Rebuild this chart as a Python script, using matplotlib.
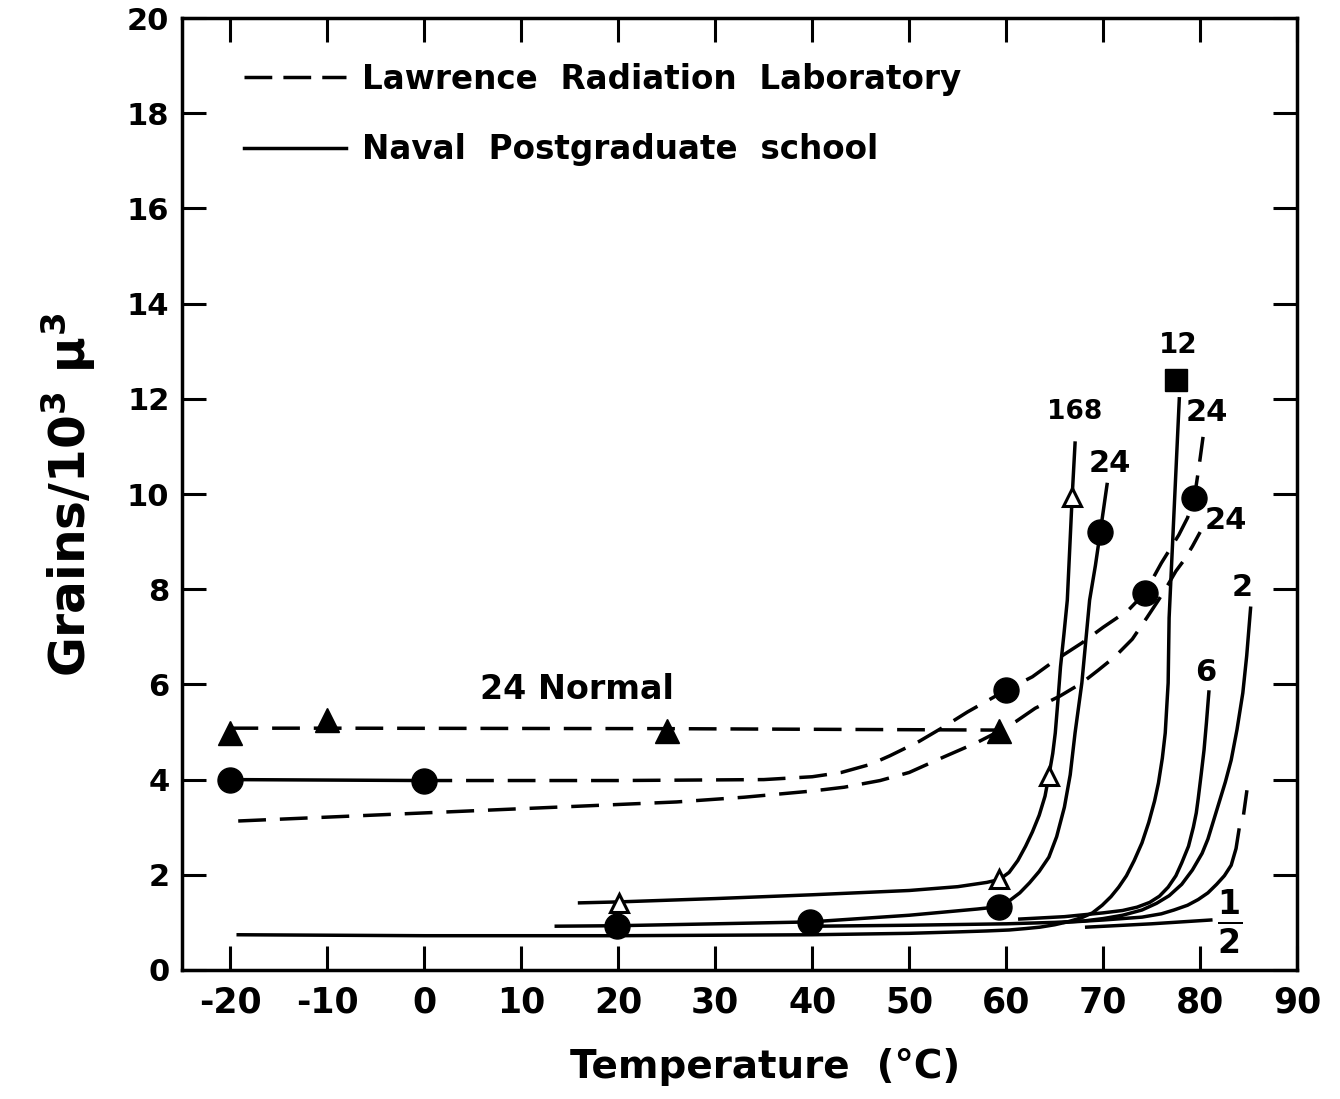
import matplotlib
matplotlib.use("Agg")
import matplotlib.pyplot as plt
from matplotlib.lines import Line2D

plt.rcParams['font.family'] = ['DejaVu Sans']
plt.rcParams['font.weight'] = 'bold'
plt.rcParams['mathtext.default'] = 'bf'

# ---------------- data ----------------
# Lawrence Radiation Laboratory (dashed)
lrl_normal_line_x = [-20, -10, 25, 59.3]
lrl_normal_line_y = [5.08, 5.08, 5.07, 5.04]
lrl_normal_tri_x = [-20, -10, 25, 59.3]
lrl_normal_tri_y = [4.97, 5.25, 5.02, 5.02]

lrl_upper_x = [0, 20, 35, 40, 43, 46, 48, 51, 53.5, 56, 58, 60, 62.7, 65, 67.8, 70, 72.6,
               74.3, 76, 77.8, 78.7, 79.4, 79.9, 80.3]
lrl_upper_y = [3.98, 3.98, 4.0, 4.06, 4.15, 4.32, 4.5, 4.8, 5.1, 5.42, 5.65, 5.88, 6.16, 6.5,
               6.87, 7.2, 7.56, 7.92, 8.55, 9.14, 9.5, 9.92, 10.6, 11.2]

lrl_lower_x = [-19.2, 0, 26, 33, 40, 43.3, 47, 50, 53.5, 57, 59.3, 61, 63, 65.5, 67.8, 69.5,
               71.2, 73, 74.5, 75.7, 76.7, 77.5, 78.3, 79.2, 80.0]
lrl_lower_y = [3.13, 3.3, 3.53, 3.63, 3.76, 3.84, 3.98, 4.15, 4.47, 4.78, 5.02, 5.22, 5.5,
               5.75, 6.03, 6.3, 6.58, 6.95, 7.4, 7.77, 8.1, 8.38, 8.6, 8.9, 9.2]

lrl_circle_x = [60, 74.3, 79.4]
lrl_circle_y = [5.88, 7.92, 9.92]

# Naval Postgraduate School (solid)
nps_normal_x = [-20, 0]
nps_normal_y = [4.0, 3.98]

nps_168_x = [16, 20, 30, 40, 50, 55, 58, 59.3, 60.3, 61.2, 62, 62.7, 63.4, 64.0, 64.4, 64.8,
             65.06, 65.35, 65.6, 65.95, 66.3, 66.55, 66.8, 67.1]
nps_168_y = [1.41, 1.43, 1.5, 1.58, 1.67, 1.75, 1.84, 1.9, 2.05, 2.3, 2.6, 2.9, 3.25, 3.65,
             4.08, 4.55, 4.98, 5.7, 6.37, 7.05, 7.77, 8.85, 9.94, 11.07]
nps_168_tri_x = [20.1, 59.3, 64.4, 66.8]
nps_168_tri_y = [1.41, 1.91, 4.08, 9.94]

nps_24_x = [13.6, 19.9, 30, 39.8, 50, 57, 59.3, 60.3, 61.4, 62.4, 63.4, 64.4, 65.2, 66.0,
            66.6, 67.1, 67.8, 68.6, 69.2, 69.7, 70.4]
nps_24_y = [0.92, 0.93, 0.97, 1.01, 1.15, 1.28, 1.33, 1.45, 1.62, 1.83, 2.07, 2.37, 2.8, 3.42,
            4.1, 4.98, 6.03, 7.77, 8.5, 9.2, 10.2]
nps_24_circ_x = [19.9, 39.8, 59.3, 69.7]
nps_24_circ_y = [0.93, 1.01, 1.33, 9.2]

nps_12_x = [-19.2, 0, 20, 40, 50, 55, 58, 60.3, 62, 63.5, 65, 66.5, 67.8, 68.9, 69.9, 70.8,
            71.6, 72.4, 73.2, 74, 74.7, 75.3, 75.7, 76.1, 76.4, 76.7, 76.8, 77.3, 77.85]
nps_12_y = [0.74, 0.72, 0.72, 0.74, 0.77, 0.8, 0.82, 0.84, 0.87, 0.9, 0.95, 1.02, 1.1, 1.2,
            1.36, 1.54, 1.74, 1.98, 2.3, 2.67, 3.1, 3.55, 3.93, 4.45, 4.98, 6.03, 7.4, 9.6, 12.0]
nps_12_sq_x = [77.5]
nps_12_sq_y = [12.4]

nps_6_x = [61.4, 66, 70, 72, 73.5, 74.8, 75.8, 76.7, 77.5, 78.1, 78.8, 79.3, 79.6, 79.8,
           80.1, 80.4, 80.65, 80.9]
nps_6_y = [1.07, 1.12, 1.2, 1.25, 1.32, 1.42, 1.55, 1.74, 1.98, 2.25, 2.6, 3.0, 3.3, 3.6,
           4.1, 4.62, 5.2, 5.84]

nps_2_x = [40.5, 50, 60, 65, 68, 70, 72, 74, 75.5, 76.8, 78.1, 79.2, 80.2, 80.8, 81.4, 82.0,
           82.6, 83.2, 83.8, 84.4, 84.8, 85.2]
nps_2_y = [0.92, 0.94, 0.97, 1.0, 1.03, 1.08, 1.15, 1.26, 1.4, 1.56, 1.8, 2.1, 2.45, 2.75,
           3.15, 3.55, 3.95, 4.41, 5.05, 5.82, 6.6, 7.6]

nps_1_x = [66, 70, 74, 76, 77.3, 78.7, 79.8, 80.8, 81.7, 82.5, 83.2, 83.7, 84.0]
nps_1_y = [1.0, 1.05, 1.11, 1.18, 1.26, 1.36, 1.48, 1.62, 1.8, 1.98, 2.2, 2.55, 2.94]
nps_1_top_x = [84.5, 84.8]
nps_1_top_y = [3.3, 3.74]

nps_half_x = [68.3, 75, 81.1]
nps_half_y = [0.9, 0.97, 1.05]

x_ticks = [-20, -10, 0, 10, 20, 30, 40, 50, 60, 70, 80, 90]
x_tick_labels = ['-20', '-10', '0', '10', '20', '30', '40', '50', '60', '70', '80', '90']
y_ticks = [0, 2, 4, 6, 8, 10, 12, 14, 16, 18, 20]
y_tick_labels = ['0', '2', '4', '6', '8', '10', '12', '14', '16', '18', '20']

curve_labels = ['24 Normal', '168', '24', '12', '24', '24', '2', '6']
label_pos_x = [15.7, 67.1, 70.7, 77.7, 80.7, 82.6, 84.3, 80.6]
label_pos_y = [5.9, 11.72, 10.65, 13.13, 11.72, 9.45, 8.03, 6.26]
label_size = [24, 19, 22, 20, 22, 22, 22, 22]

# ---------------- figure ----------------
fig = plt.figure(figsize=(13.4, 10.99), dpi=100)
ax = fig.add_axes([0.1358, 0.1174, 0.968 - 0.1358, 0.9836 - 0.1174])

LW = 2.5
DASH = (8, 4)
k = 'black'

# LRL dashed
ax.plot(lrl_normal_line_x, lrl_normal_line_y, color=k, lw=LW, dashes=DASH)
ax.plot(lrl_upper_x, lrl_upper_y, color=k, lw=LW, dashes=DASH)
ax.plot(lrl_lower_x, lrl_lower_y, color=k, lw=LW, dashes=DASH)

# NPS solid
ax.plot(nps_normal_x, nps_normal_y, color=k, lw=LW)
ax.plot(nps_168_x, nps_168_y, color=k, lw=LW)
ax.plot(nps_24_x, nps_24_y, color=k, lw=LW)
ax.plot(nps_12_x, nps_12_y, color=k, lw=LW)
ax.plot(nps_6_x, nps_6_y, color=k, lw=LW)
ax.plot(nps_2_x, nps_2_y, color=k, lw=LW)
ax.plot(nps_1_x, nps_1_y, color=k, lw=LW)
ax.plot(nps_1_top_x, nps_1_top_y, color=k, lw=LW)
ax.plot(nps_half_x, nps_half_y, color=k, lw=LW)

# markers
ax.plot(lrl_normal_tri_x, lrl_normal_tri_y, ls='none', marker='^', ms=17, color=k, zorder=5)
ax.plot(nps_normal_x, nps_normal_y, ls='none', marker='o', ms=18, color=k, zorder=5)
ax.plot(lrl_circle_x, lrl_circle_y, ls='none', marker='o', ms=18, color=k, zorder=5)
ax.plot(nps_24_circ_x, nps_24_circ_y, ls='none', marker='o', ms=18, color=k, zorder=5)
ax.plot(nps_168_tri_x, nps_168_tri_y, ls='none', marker='^', ms=13, mfc='white', mec=k,
        mew=2.2, zorder=6)
ax.plot(nps_12_sq_x, nps_12_sq_y, ls='none', marker='s', ms=16, color=k, zorder=5)

# curve labels
for t, x, y, s in zip(curve_labels, label_pos_x, label_pos_y, label_size):
    ax.text(x, y, t, fontsize=s, fontweight='bold', ha='center', va='center')
# the 1/2 fraction label
ax.text(83.0, 1.0, r'$\frac{\mathbf{1}}{\mathbf{2}}$', fontsize=34, ha='center', va='center')

# axes styling
ax.set_xlim(-25, 90)
ax.set_ylim(0, 20)
ax.set_xticks(x_ticks)
ax.set_xticklabels(x_tick_labels, fontsize=25, fontweight='bold')
ax.set_yticks(y_ticks)
ax.set_yticklabels(y_tick_labels, fontsize=22, fontweight='bold')
ax.tick_params(axis='both', direction='in', length=17, width=2.2, top=True, right=True)
ax.tick_params(axis='x', pad=11)
ax.tick_params(axis='y', pad=9)
for sp in ax.spines.values():
    sp.set_linewidth(2.5)

ax.set_xlabel('Temperature  (°C)', fontsize=28, fontweight='bold')
ax.xaxis.set_label_coords(0.523, -0.082)
ax.set_ylabel('Grains/10$^3$ μ$^3$', fontsize=35, fontweight='bold')
ax.yaxis.set_label_coords(-0.075, 0.499)

# legend
handles = [Line2D([], [], color=k, lw=LW, dashes=(8, 3.2)),
           Line2D([], [], color=k, lw=LW)]
labels = ['Lawrence  Radiation  Laboratory', 'Naval  Postgraduate  school']
leg = ax.legend(handles, labels, loc='upper left', bbox_to_anchor=(0.056, 0.953),
                frameon=False, borderpad=0, borderaxespad=0, handlelength=3.1,
                handletextpad=0.5, labelspacing=1.15,
                prop={'size': 23.5, 'weight': 'bold'})

fig.savefig('out.png', dpi=100)
